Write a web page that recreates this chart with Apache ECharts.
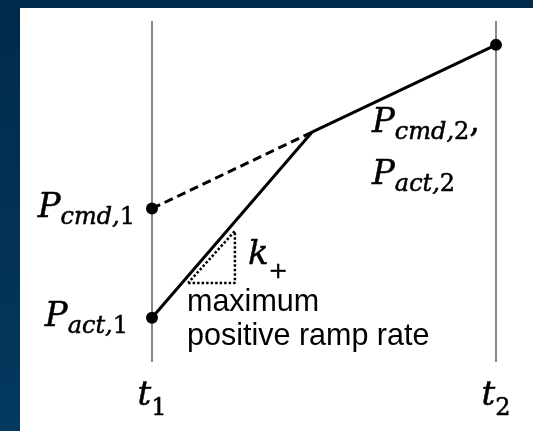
<!DOCTYPE html>
<html>
<head>
<meta charset="utf-8">
<script src="https://cdn.jsdelivr.net/npm/echarts@6/dist/echarts.min.js"></script>
<style>
  html, body { margin: 0; padding: 0; }
  #chart { width: 533px; height: 431px; background: linear-gradient(#012a4b, #03395f); }
</style>
</head>
<body>
<div id="chart"></div>
<script>
// Time instants on a normalised axis: t1 = 0, t2 = 1
const timeTicks = [0, 1];
const timeSubscripts = ['1', '2'];

// Power levels (arbitrary units, 0..100)
const cmdPath = [[0, 45], [0.465, 67.4]];                // commanded set-point (dashed)
const actPath = [[0, 13], [0.465, 67.4], [1, 93]];      // actual output, ramp limited
const markerPoints = [[0, 45], [0, 13], [1, 93]];        // P_cmd,1 / P_act,1 / end point
const junctionPoint = [0.465, 67.4];                     // P_cmd,2 = P_act,2
const rampTriangle = [[0.105, 23.2], [0.241, 23.2], [0.241, 38.4], [0.105, 23.2]];

const serif = 'DejaVu Serif';
const ink = { color: '#000', textBorderColor: '#000', textBorderWidth: 0.5 };
function st(o) { return Object.assign({}, ink, o); }
const richMath = {
  P: st({ fontFamily: serif, fontStyle: 'italic', fontSize: 34, lineHeight: 40 }),
  Q: st({ fontFamily: serif, fontStyle: 'italic', fontSize: 34, lineHeight: 52 }),
  s: st({ fontFamily: serif, fontStyle: 'italic', fontSize: 24, lineHeight: 22, padding: [19, 0, 0, 0] }),
  n: st({ fontFamily: serif, fontSize: 24, lineHeight: 22, padding: [19, 0, 0, 0] }),
  c: st({ fontFamily: serif, fontSize: 34, lineHeight: 40 })
};

const chart = echarts.init(document.getElementById('chart'), null, { renderer: 'canvas' });

const markerData = markerPoints.map(function (p, i) {
  const item = { value: p };
  if (i === 0) {
    item.label = { show: true, position: 'left', distance: 11,
      formatter: '{P|P}{s|cmd,}{n|1}', rich: richMath };
  } else if (i === 1) {
    item.label = { show: true, position: 'left', distance: 18,
      formatter: '{P|P}{s|act,}{n|1}', rich: richMath };
  }
  return item;
});

// zrender-level text styles for the free annotations
const gInk = { fill: '#000', stroke: '#000', lineWidth: 0.5 };
function gs(o) { return Object.assign({}, gInk, o); }

chart.setOption({
  backgroundColor: 'transparent',
  animation: false,
  graphic: {
    elements: [
      { type: 'rect', z: -100, silent: true,
        shape: { x: 20, y: 8, width: 513, height: 423 },
        style: { fill: '#ffffff' } },
      { type: 'text', x: 248, y: 255, z: 10,
        style: {
          text: '{k|k}{p|+}',
          verticalAlign: 'middle', align: 'left',
          rich: {
            k: gs({ fontFamily: serif, fontStyle: 'italic', fontSize: 34, lineHeight: 40 }),
            p: gs({ fontFamily: serif, fontSize: 23, lineHeight: 20, padding: [34, 0, 0, 0] })
          }
        } },
      { type: 'text', x: 187, y: 286, z: 10,
        style: {
          text: 'maximum\npositive ramp rate',
          fontFamily: 'Liberation Sans', fontSize: 30.5, lineHeight: 34,
          fill: '#000', verticalAlign: 'top', align: 'left'
        } }
    ]
  },
  grid: { left: 152, right: 37, top: 21, bottom: 69, containLabel: false },
  xAxis: {
    type: 'value', min: 0, max: 1, interval: 1,
    axisLine: { show: false },
    axisTick: { show: false },
    splitLine: { show: true, lineStyle: { color: '#868686', width: 2 } },
    axisLabel: {
      show: true, margin: 10, showMinLabel: true, showMaxLabel: true,
      formatter: function (v) {
        const i = timeTicks.indexOf(v);
        return '{t|t}{n|' + timeSubscripts[i] + '}';
      },
      rich: {
        t: st({ fontFamily: serif, fontStyle: 'italic', fontSize: 34, lineHeight: 48 }),
        n: st({ fontFamily: serif, fontSize: 24, lineHeight: 22, padding: [26, 0, 0, 0] })
      }
    }
  },
  yAxis: {
    type: 'value', min: 0, max: 100,
    show: false, splitLine: { show: false }
  },
  series: [
    { name: 'commanded', type: 'line', data: cmdPath, symbol: 'none', z: 3,
      lineStyle: { color: '#000', width: 3, type: [9, 5] } },
    { name: 'actual', type: 'line', data: actPath, symbol: 'none', z: 3,
      lineStyle: { color: '#000', width: 3 } },
    { name: 'ramp', type: 'line', data: rampTriangle, symbol: 'none', z: 3,
      lineStyle: { color: '#000', width: 2.5, type: [2.5, 2] } },
    { name: 'points', type: 'scatter', data: markerData, symbol: 'circle', symbolSize: 12, z: 5,
      itemStyle: { color: '#000', opacity: 1 } },
    { name: 'junction', type: 'scatter', symbolSize: 0.01, z: 5,
      itemStyle: { color: '#000', opacity: 1 },
      data: [{ value: junctionPoint,
        label: { show: true, position: 'right', distance: 60, offset: [0, 17],
          color: '#000', textBorderColor: '#000', textBorderWidth: 0.5,
          formatter: '{Q|P}{s|cmd,}{n|2}{c|,}\n{Q|P}{s|act,}{n|2}', rich: richMath } }] }
  ]
});
</script>
</body>
</html>
